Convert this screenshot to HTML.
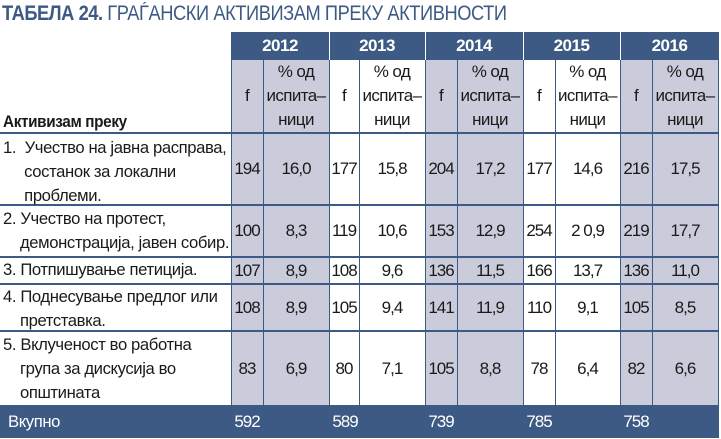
<!DOCTYPE html>
<html><head><meta charset="utf-8"><style>
body{margin:0;width:721px;height:439px;background:#fff;position:relative;overflow:hidden;font-family:"Liberation Sans","DejaVu Sans",sans-serif;color:#1a1a1a}
.a{position:absolute}
.t{font-size:17px;line-height:24px;letter-spacing:-0.4px;transform:scaleX(0.98);transform-origin:left top;white-space:nowrap}
.c{position:absolute;display:flex;align-items:center;justify-content:center;text-align:center;font-size:17px;line-height:24px;letter-spacing:-1px;z-index:2}
.g{background:#cbccdb}
.hb{background:#3d5a84}
.hl{position:absolute;left:0;width:719px;height:2px;background:#3d5a84}
.vl{position:absolute;width:1px;background:#3d5a84}
</style></head><body>
<div class="a" style="left:2px;top:2px;font-size:21px;font-weight:bold;color:#3d5a84;letter-spacing:-0.5px;transform:scaleX(0.87);transform-origin:left top;white-space:nowrap">ТАБЕЛА 24. <span style="font-weight:normal">ГРАЃАНСКИ АКТИВИЗАМ ПРЕКУ АКТИВНОСТИ</span></div>

<div class="a hb" style="left:231px;top:32px;width:488px;height:28px"></div>
<div class="c" style="left:231px;top:32px;width:98px;height:28px;color:#fff;font-weight:bold;letter-spacing:-0.5px">2012</div>
<div class="c" style="left:329px;top:32px;width:96px;height:28px;color:#fff;font-weight:bold;letter-spacing:-0.5px">2013</div>
<div class="c" style="left:425px;top:32px;width:98px;height:28px;color:#fff;font-weight:bold;letter-spacing:-0.5px">2014</div>
<div class="c" style="left:523px;top:32px;width:97px;height:28px;color:#fff;font-weight:bold;letter-spacing:-0.5px">2015</div>
<div class="c" style="left:620px;top:32px;width:99px;height:28px;color:#fff;font-weight:bold;letter-spacing:-0.5px">2016</div>
<div class="vl" style="left:329px;top:32px;height:28px;background:#fff"></div>
<div class="vl" style="left:425px;top:32px;height:28px;background:#fff"></div>
<div class="vl" style="left:523px;top:32px;height:28px;background:#fff"></div>
<div class="vl" style="left:620px;top:32px;height:28px;background:#fff"></div>

<div class="a g" style="left:231px;top:60px;width:98px;height:345px"></div>
<div class="a g" style="left:425px;top:60px;width:98px;height:345px"></div>
<div class="a g" style="left:620px;top:60px;width:99px;height:345px"></div>

<div class="vl" style="left:231px;top:60px;height:345px"></div>
<div class="vl" style="left:263px;top:60px;height:345px"></div>
<div class="vl" style="left:329px;top:60px;height:345px"></div>
<div class="vl" style="left:359px;top:60px;height:345px"></div>
<div class="vl" style="left:425px;top:60px;height:345px"></div>
<div class="vl" style="left:457px;top:60px;height:345px"></div>
<div class="vl" style="left:523px;top:60px;height:345px"></div>
<div class="vl" style="left:555px;top:60px;height:345px"></div>
<div class="vl" style="left:620px;top:60px;height:345px"></div>
<div class="vl" style="left:652px;top:60px;height:345px"></div>
<div class="vl" style="left:718px;top:60px;height:345px"></div>

<div class="a t" style="left:3px;top:110px;font-weight:bold;transform:scaleX(0.9)">Активизам преку</div>

<div class="hl" style="top:132px"></div>
<div class="hl" style="top:204px"></div>
<div class="hl" style="top:256px"></div>
<div class="hl" style="top:283px"></div>
<div class="hl" style="top:330px"></div>

<div class="a t" style="left:3px;top:136px">1.&nbsp; Учество на јавна расправа,<br>&nbsp;&nbsp;&nbsp;&nbsp;&nbsp;состанок за локални<br>&nbsp;&nbsp;&nbsp;&nbsp;&nbsp;проблеми.</div>
<div class="a t" style="left:3px;top:207px">2. Учество на протест,<br>&nbsp;&nbsp;&nbsp;&nbsp;демонстрација, јавен собир.</div>
<div class="a t" style="left:3px;top:258px">3. Потпишување петиција.</div>
<div class="a t" style="left:3px;top:285px">4. Поднесување предлог или<br>&nbsp;&nbsp;&nbsp;&nbsp;претставка.</div>
<div class="a t" style="left:3px;top:333px">5. Вклученост во работна<br>&nbsp;&nbsp;&nbsp;&nbsp;група за дискусија во<br>&nbsp;&nbsp;&nbsp;&nbsp;општината</div>

<div class="a hb" style="left:0;top:405px;width:719px;height:33px"></div>
<div class="a t" style="left:8px;top:410px;color:#fff;z-index:2">Вкупно</div>
<div id="sub"></div>

<script>
var cols=[[231,32],[263,66],[329,30],[359,66],[425,32],[457,66],[523,32],[555,65],[620,32],[652,66]];
var rows=[[133,71],[206,50],[258,25],[285,45],[332,73]];
var d=[["194","16,0","177","15,8","204","17,2","177","14,6","216","17,5"],
["100","8,3","119","10,6","153","12,9","254","2 0,9","219","17,7"],
["107","8,9","108","9,6","136","11,5","166","13,7","136","11,0"],
["108","8,9","105","9,4","141","11,9","110","9,1","105","8,5"],
["83","6,9","80","7,1","105","8,8","78","6,4","82","6,6"]];
var h="";
for(var i=0;i<10;i++){var c=cols[i];
 h+='<div class="c" style="left:'+c[0]+'px;top:60px;width:'+c[1]+'px;height:72px;letter-spacing:-0.6px">'+(i%2==0?'f':'% од<br>испита–<br>ници')+'</div>';
 for(var r=0;r<5;r++)h+='<div class="c" style="left:'+c[0]+'px;top:'+rows[r][0]+'px;width:'+c[1]+'px;height:'+rows[r][1]+'px">'+d[r][i]+'</div>';
}
var tot=["592","589","739","785","758"];
for(var k=0;k<5;k++)h+='<div class="c" style="left:'+cols[k*2][0]+'px;top:405px;width:32px;height:33px;color:#fff">'+tot[k]+'</div>';
document.getElementById("sub").outerHTML=h;
</script>
</body></html>
